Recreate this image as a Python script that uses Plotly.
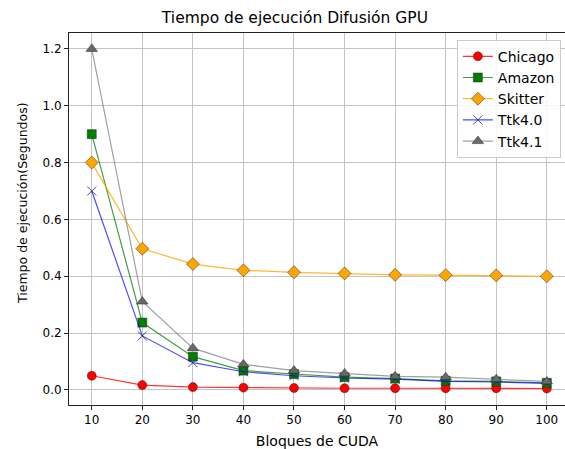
import plotly.graph_objects as go

bloques = [10, 20, 30, 40, 50, 60, 70, 80, 90, 100]
chicago = [0.05, 0.017, 0.010, 0.008, 0.007, 0.006, 0.006, 0.006, 0.006, 0.005]
amazon = [0.90, 0.237, 0.117, 0.068, 0.056, 0.045, 0.040, 0.032, 0.030, 0.025]
skitter = [0.80, 0.497, 0.443, 0.421, 0.414, 0.410, 0.405, 0.404, 0.403, 0.400]
ttk40 = [0.70, 0.19, 0.096, 0.064, 0.050, 0.042, 0.038, 0.030, 0.028, 0.023]
ttk41 = [1.20, 0.311, 0.147, 0.090, 0.068, 0.058, 0.048, 0.045, 0.038, 0.030]

edge = "rgba(30,30,30,0.8)"
series = [
    ("Chicago", chicago, "rgba(255,0,0,0.8)", dict(symbol="circle", size=9, color="red", line=dict(color=edge, width=0.6))),
    ("Amazon", amazon, "rgba(0,128,0,0.75)", dict(symbol="square", size=9, color="green", line=dict(color=edge, width=0.6))),
    ("Skitter", skitter, "rgba(255,165,0,0.8)", dict(symbol="diamond", size=10, color="orange", line=dict(color=edge, width=0.6))),
    ("Ttk4.0", ttk40, "rgba(0,0,255,0.7)", dict(symbol="x-thin", size=9, color="rgba(40,40,90,0.9)", line=dict(color="rgba(40,40,90,0.85)", width=1))),
    ("Ttk4.1", ttk41, "rgba(128,128,128,0.75)", dict(symbol="triangle-up", size=10, color="dimgray", line=dict(color=edge, width=0.6))),
]

fig = go.Figure()
for name, vals, lc, mk in series:
    fig.add_trace(go.Scatter(x=bloques, y=vals, name=name, mode="lines+markers",
                             line=dict(color=lc, width=1.2), marker=mk))

font = "DejaVu Sans"
grid = "#c4c4c4"
fig.update_layout(
    width=565, height=449,
    margin=dict(l=69, r=0, t=33, b=44),
    paper_bgcolor="white", plot_bgcolor="white",
    font=dict(family=font, size=12, color="black"),
    title=dict(text="Tiempo de ejecución Difusión GPU", x=0.522, xanchor="center",
               xref="container", y=0.96, yanchor="middle", font=dict(size=15.5)),
    showlegend=True,
    legend=dict(x=0.782, y=0.982, xanchor="left", yanchor="top",
                bgcolor="rgba(255,255,255,0.85)", bordercolor="#cccccc", borderwidth=1,
                font=dict(size=14), itemwidth=30, tracegroupgap=0),
    xaxis=dict(range=[5.5, 103.6], tickvals=bloques, showgrid=True, gridcolor=grid, gridwidth=1.2,
               showline=True, linecolor="#222222", linewidth=1, mirror=True,
               ticks="outside", ticklen=4, tickcolor="#222222", zeroline=False,
               title=dict(text="Bloques de CUDA", standoff=10)),
    yaxis=dict(range=[-0.053, 1.256], tickvals=[0, 0.2, 0.4, 0.6, 0.8, 1.0, 1.2],
               ticktext=["0.0", "0.2", "0.4", "0.6", "0.8", "1.0", "1.2"],
               showgrid=True, gridcolor=grid, gridwidth=1.2,
               showline=True, linecolor="#222222", linewidth=1, mirror=True,
               ticks="outside", ticklen=4, tickcolor="#222222", zeroline=False),
    annotations=[dict(text="Tiempo de ejecución(Segundos)", textangle=-90,
                      xref="paper", yref="paper", x=-47 / 496, y=(405 - 203) / 372,
                      xanchor="center", yanchor="middle", showarrow=False,
                      font=dict(size=12.5))],
)
fig.write_html("out.html", config={"displayModeBar": False},
               post_script="document.body.style.margin='0';document.body.style.overflow='hidden';")
